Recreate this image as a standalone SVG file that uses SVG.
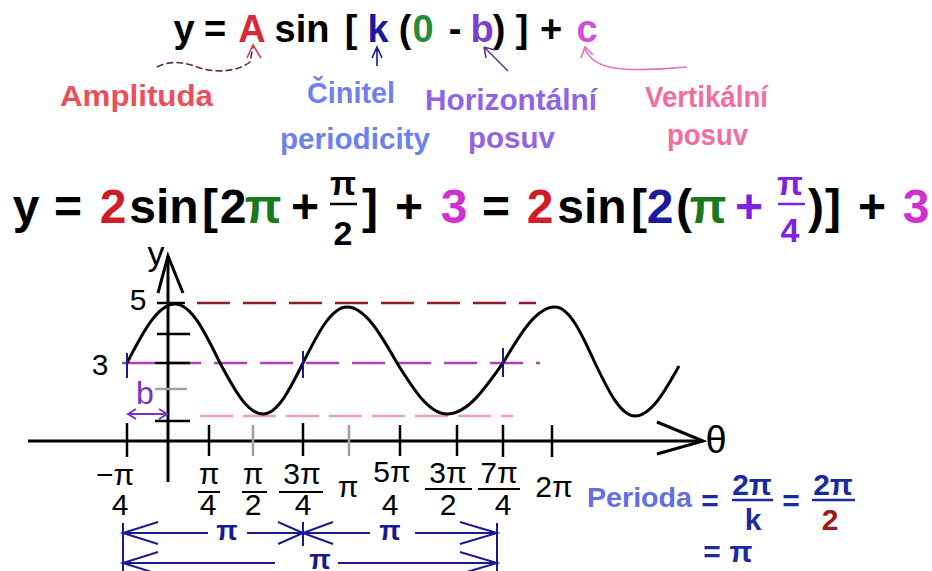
<svg xmlns="http://www.w3.org/2000/svg" width="932" height="571" viewBox="0 0 932 571">
<style>
text{font-family:"Liberation Sans",Arial,sans-serif}
.f1{font-size:38px;font-weight:bold;text-anchor:middle}
.f2{font-size:48px;font-weight:bold;text-anchor:middle}
.fn{font-size:34px;font-weight:bold;text-anchor:middle}
.lab{font-size:30px;font-weight:bold}
.ax{font-size:30px;text-anchor:middle;fill:#000}
.pi{font-size:28px;font-weight:bold;text-anchor:middle;fill:#1a1a90}
.per{font-size:30px;font-weight:bold;text-anchor:middle}
.blk{stroke:#000;stroke-width:3;fill:none}
.tick{stroke:#000;stroke-width:2.5}
.gtick{stroke:#a0a0a0;stroke-width:2.5}
.nav{stroke:#1a1a90;stroke-width:2;fill:none}
.frl{stroke-width:2.5}
</style>

<g id="formula-general">
<text class="f1" x="184" y="42" fill="#000">y</text>
<text class="f1" x="215" y="42" fill="#000">=</text>
<text class="f1" x="252" y="42" fill="#d8283a">A</text>
<text class="f1" x="302" y="42" fill="#000">sin</text>
<text class="f1" x="351" y="42" fill="#000">[</text>
<text class="f1" x="378" y="42" fill="#1a1aa0">k</text>
<text class="f1" x="405" y="42" fill="#000">(</text>
<text class="f1" x="423" y="42" fill="#2a8a3a" font-weight="normal">0</text>
<text class="f1" x="455" y="42" fill="#000">-</text>
<text class="f1" x="482" y="42" fill="#7a40d0">b</text>
<text class="f1" x="499" y="42" fill="#000">)</text>
<text class="f1" x="522" y="42" fill="#000">]</text>
<text class="f1" x="551" y="42" fill="#000">+</text>
<text class="f1" x="587" y="42" fill="#d050d8">c</text>
</g>

<g id="label-amplituda"><text class="lab" x="60" y="106" fill="#e8505a" textLength="153" lengthAdjust="spacingAndGlyphs">Amplituda</text></g>
<g id="label-cinitel">
<text class="lab" x="307" y="103" fill="#6c80ee" textLength="88" lengthAdjust="spacingAndGlyphs">Činitel</text>
<text class="lab" x="280" y="149" fill="#6c80ee" textLength="150" lengthAdjust="spacingAndGlyphs">periodicity</text>
</g>
<g id="label-horizontalni">
<text class="lab" x="425" y="110" fill="#9064e6" textLength="172" lengthAdjust="spacingAndGlyphs">Horizontální</text>
<text class="lab" x="468" y="148" fill="#9064e6" textLength="87" lengthAdjust="spacingAndGlyphs">posuv</text>
</g>
<g id="label-vertikalni">
<text class="lab" x="645" y="107" fill="#f06ea0" font-size="27" textLength="123" lengthAdjust="spacingAndGlyphs">Vertikální</text>
<text class="lab" x="667" y="145" fill="#f06ea0" font-size="27" textLength="81" lengthAdjust="spacingAndGlyphs">posuv</text>
</g>

<g id="label-connectors" fill="none" stroke-width="1.6">
<path d="M157,67 C170,60 185,62 200,68 C220,74 240,70 250,62 L253,47" stroke="#6a2a30" stroke-dasharray="7 3"/>
<path d="M247,58 L253,45 L261,58" stroke="#d04050"/>
<path d="M377,66 L377,48 M372,58 L377,47 L382,58" stroke="#1a1a90"/>
<path d="M508,71 L484,47 M484,47 L486,58 M484,47 L495,50" stroke="#5a3a8a"/>
<path d="M687,67 C670,68 640,72 615,68 C600,66 590,60 585,49 M581,58 L585,47 L593,55" stroke="#e070c0"/>
</g>

<g id="formula-example">
<text class="f2" x="26" y="223" fill="#000">y</text>
<text class="f2" x="68" y="223" fill="#000">=</text>
<text class="f2" x="113" y="223" fill="#d01c28">2</text>
<text class="f2" x="164" y="223" fill="#000">sin</text>
<text class="f2" x="210" y="223" fill="#000">[</text>
<text class="f2" x="233" y="223" fill="#000">2</text>
<text class="f2" x="263" y="223" fill="#1a7a1a">π</text>
<text class="f2" x="305" y="223" fill="#000">+</text>
<text class="fn" x="343" y="195" fill="#000">π</text>
<line x1="330" y1="204" x2="357" y2="204" stroke="#000" class="frl"/>
<text class="fn" x="343" y="245" fill="#000" font-size="42">2</text>
<text class="f2" x="370" y="223" fill="#000">]</text>
<text class="f2" x="409" y="223" fill="#000">+</text>
<text class="f2" x="454" y="223" fill="#d030d0">3</text>
<text class="f2" x="496" y="223" fill="#000">=</text>
<text class="f2" x="540" y="223" fill="#d01c28">2</text>
<text class="f2" x="592" y="223" fill="#000">sin</text>
<text class="f2" x="639" y="223" fill="#000">[</text>
<text class="f2" x="660" y="223" fill="#1a1aa0">2</text>
<text class="f2" x="684" y="223" fill="#000">(</text>
<text class="f2" x="708" y="223" fill="#1a7a1a">π</text>
<text class="f2" x="749" y="223" fill="#8020e0">+</text>
<text class="fn" x="790" y="195" fill="#8020e0">π</text>
<line x1="778" y1="204" x2="805" y2="204" stroke="#8020e0" class="frl"/>
<text class="fn" x="790" y="242" fill="#8020e0">4</text>
<text class="f2" x="816" y="223" fill="#000">)</text>
<text class="f2" x="833" y="223" fill="#000">]</text>
<text class="f2" x="872" y="223" fill="#000">+</text>
<text class="f2" x="916" y="223" fill="#d030d0">3</text>
</g>

<g id="guides" stroke-width="2.5" fill="none">
<line x1="197" y1="303" x2="536" y2="303" stroke="#901c28" stroke-dasharray="33 13"/>
<line x1="122" y1="363" x2="540" y2="363" stroke="#b040b0" stroke-dasharray="33 13"/>
<line x1="200" y1="416" x2="513" y2="416" stroke="#f0a0b0" stroke-dasharray="33 10"/>
</g>

<g id="axes">
<line x1="28" y1="441" x2="703" y2="441" class="blk"/>
<path d="M657,422 L703,441 L657,454" class="blk"/>
<line x1="168" y1="256" x2="168" y2="482" class="blk"/>
<path d="M158,293 L168,256 L183,293" class="blk"/>
<text x="156" y="265" font-size="34" text-anchor="middle" fill="#000">y</text>
<text x="716" y="453" font-size="38" text-anchor="middle" fill="#000">θ</text>
<line x1="157" y1="303" x2="185" y2="303" class="tick"/>
<line x1="157" y1="334" x2="190" y2="334" class="tick"/>
<line x1="155" y1="363" x2="190" y2="363" class="tick"/>
<line x1="155" y1="389" x2="187" y2="389" class="gtick"/>
<line x1="155" y1="421" x2="190" y2="421" class="tick"/>
<text class="ax" x="138" y="310">5</text>
<text class="ax" x="100" y="375">3</text>
<line x1="127" y1="423" x2="127" y2="457" class="tick"/>
<line x1="209" y1="425" x2="209" y2="456" class="tick"/>
<line x1="253" y1="425" x2="253" y2="456" class="gtick"/>
<line x1="303" y1="423" x2="303" y2="456" class="tick"/>
<line x1="349" y1="425" x2="349" y2="456" class="gtick"/>
<line x1="400" y1="425" x2="400" y2="456" class="tick"/>
<line x1="457" y1="425" x2="457" y2="456" class="tick"/>
<line x1="503" y1="425" x2="503" y2="457" class="tick"/>
<line x1="552" y1="425" x2="552" y2="457" class="tick"/>
</g>

<g id="axis-labels">
<text class="ax" x="115" y="485">−π</text><text class="ax" x="120" y="515">4</text>
<text class="ax" x="209" y="484">π</text><line x1="198" y1="492" x2="220" y2="492" stroke="#000" stroke-width="2"/><text class="ax" x="208" y="515">4</text>
<text class="ax" x="253" y="484">π</text><line x1="242" y1="492" x2="267" y2="492" stroke="#000" stroke-width="2"/><text class="ax" x="253" y="515">2</text>
<text class="ax" x="302" y="484">3π</text><line x1="279" y1="492" x2="323" y2="492" stroke="#000" stroke-width="2"/><text class="ax" x="303" y="515">4</text>
<text class="ax" x="348" y="497">π</text>
<text class="ax" x="392" y="482">5π</text><text class="ax" x="390" y="515">4</text>
<text class="ax" x="448" y="483">3π</text><line x1="425" y1="489" x2="472" y2="489" stroke="#000" stroke-width="2"/><text class="ax" x="448" y="515">2</text>
<text class="ax" x="499" y="483">7π</text><line x1="478" y1="489" x2="520" y2="489" stroke="#000" stroke-width="2"/><text class="ax" x="503" y="515">4</text>
<text class="ax" x="554" y="497">2π</text>
</g>

<g id="curve">
<path class="blk" stroke-width="3.5" d="M127,363 C142.6,332.8 157.6,304 175,304 C191.3,304 205.3,332.8 220,363 C234,389.1 247.4,414 263,414 C277.5,414 290,389.1 303,363 C317.3,334.3 331.1,307 347,307 C365.1,307 380.7,334.3 397,363 C413.3,389.1 428.9,414 447,414 C467.3,414 484.7,389.1 503,363 C520,334.3 536.2,307 555,307 C569.5,307 582,334.3 595,363 C608,390.1 620.5,416 635,416 C650.9,416 664.7,391.6 679,366"/>
<path d="M127,353 L127,378 M303,351 L303,378 M503,348 L503,377" stroke="#1a1a90" stroke-width="2"/>
</g>

<g id="shift-b">
<text x="145" y="404" font-size="32" text-anchor="middle" fill="#7a30c0">b</text>
<path d="M128,414 L167,414 M136,409 L128,414 L136,419 M159,409 L167,414 L159,419" stroke="#7a30c0" stroke-width="2" fill="none"/>
</g>

<g id="period-arrows">
<path class="nav" d="M123,533 L208,533 M247,533 L303,533 M303,533 L370,533 M415,533 L497,533"/>
<path class="nav" d="M158,522 L123,533 L158,544 M278,522 L303,533 L278,544 M333,522 L303,533 L333,544 M460,522 L497,533 L460,544"/>
<path class="nav" d="M123,523 L123,571 M497,523 L497,571 M303,522 L303,546"/>
<path class="nav" d="M123,563 L275,563 M338,563 L497,563 M158,552 L123,563 L158,574 M460,552 L497,563 L460,574"/>
<text class="pi" x="227" y="540">π</text>
<text class="pi" x="390" y="540">π</text>
<text class="pi" x="320" y="569">π</text>
</g>

<g id="perioda">
<text x="587" y="507" font-size="28" font-weight="bold" fill="#6070e0" textLength="105" lengthAdjust="spacingAndGlyphs">Perioda</text>
<text class="per" x="710" y="511" fill="#1a2aa0">=</text>
<text class="per" x="752" y="495" fill="#1a2aa0">2π</text>
<line x1="732" y1="500" x2="773" y2="500" stroke="#1a2aa0" stroke-width="2.5"/>
<text class="per" x="753" y="530" fill="#1a2aa0">k</text>
<text class="per" x="791" y="511" fill="#1a2aa0">=</text>
<text class="per" x="833" y="495" fill="#1a2aa0">2π</text>
<line x1="812" y1="500" x2="855" y2="500" stroke="#1a2aa0" stroke-width="2.5"/>
<text class="per" x="830" y="530" fill="#a01818">2</text>
<text class="per" x="712" y="562" fill="#1a2aa0">=</text>
<text class="per" x="741" y="562" fill="#1a2aa0">π</text>
</g>
</svg>
